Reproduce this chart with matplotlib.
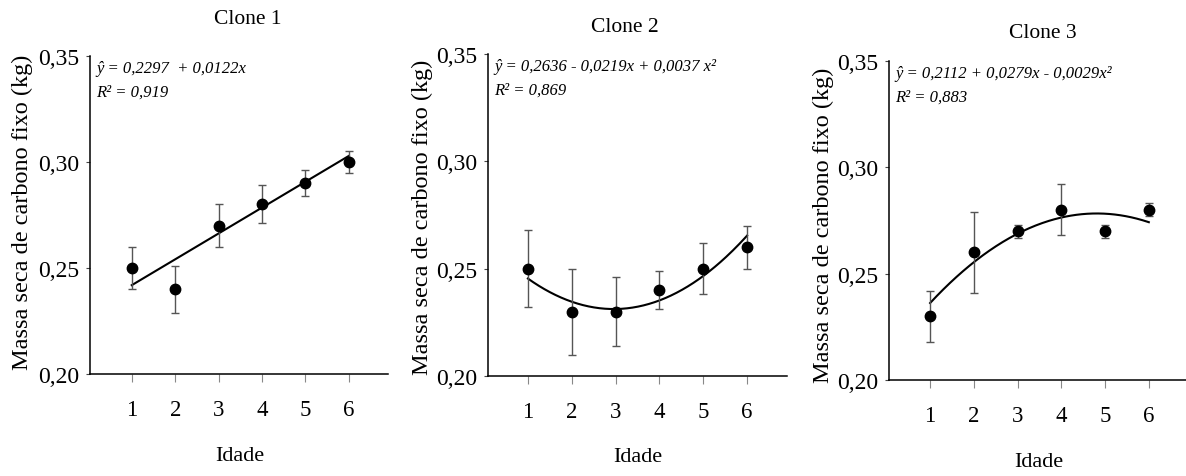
import numpy as np
from matplotlib import pyplot as plt

# dados
idade = [1, 2, 3, 4, 5, 6]
clone1_media = [0.25, 0.24, 0.27, 0.28, 0.29, 0.30]
clone1_erro = [0.010, 0.011, 0.010, 0.009, 0.006, 0.005]
clone2_media = [0.25, 0.23, 0.23, 0.24, 0.25, 0.26]
clone2_erro = [0.018, 0.020, 0.016, 0.009, 0.012, 0.010]
clone3_media = [0.23, 0.26, 0.27, 0.28, 0.27, 0.28]
clone3_erro = [0.012, 0.019, 0.003, 0.012, 0.003, 0.003]

# coeficientes das equações ajustadas (b0, b1, b2)
clone1_coef = [0.2297, 0.0122, 0.0]
clone2_coef = [0.2636, -0.0219, 0.0037]
clone3_coef = [0.2112, 0.0279, -0.0029]

titulos = ["Clone 1", "Clone 2", "Clone 3"]
equacoes = ["ŷ = 0,2297  + 0,0122x",
            "ŷ = 0,2636 - 0,0219x + 0,0037 x²",
            "ŷ = 0,2112 + 0,0279x - 0,0029x²"]
r2_textos = ["R² = 0,919", "R² = 0,869", "R² = 0,883"]
y_ticks = [0.20, 0.25, 0.30, 0.35]
y_tick_labels = ["0,20", "0,25", "0,30", "0,35"]

W, H = 1186, 477
plt.rcParams['font.family'] = ['Liberation Serif', 'DejaVu Serif']
fig = plt.figure(figsize=(W / 100, H / 100), dpi=100)


def px(x, y):
    return x / W, 1 - y / H


# (esquerda, direita, base, topo) em pixels, limites de x
paineis = [
    dict(box=(90.5, 388, 375, 57), xlim=(0.05, 6.9), titulo=(248, 20), ylab=(22, 212), xlab=(240, 457)),
    dict(box=(488, 787, 377, 55), xlim=(0.09, 6.91), titulo=(625, 28), ylab=(422, 217), xlab=(638, 458)),
    dict(box=(889, 1186, 381, 62), xlim=(0.06, 6.85), titulo=(1043, 33), ylab=(823, 225), xlab=(1039, 463)),
]
medias = [clone1_media, clone2_media, clone3_media]
erros = [clone1_erro, clone2_erro, clone3_erro]
coefs = [clone1_coef, clone2_coef, clone3_coef]

for i, p in enumerate(paineis):
    l, r, b, t = p['box']
    ax = fig.add_axes([l / W, 1 - b / H, (r - l) / W, (b - t) / H])
    ax.errorbar(idade, medias[i], yerr=erros[i], fmt='o', color='black', ms=7.5,
                ecolor='#555555', elinewidth=1.0, capsize=2.8, capthick=1.0, zorder=3)
    xs = np.linspace(1, 6, 200)
    c = coefs[i]
    ax.plot(xs, c[0] + c[1] * xs + c[2] * xs ** 2, color='black', lw=1.5, zorder=2)

    ax.set_xlim(*p['xlim'])
    ax.set_ylim(0.20, 0.35)
    ax.set_xticks(idade)
    ax.set_xticklabels([str(v) for v in idade], fontsize=16.5)
    ax.set_yticks(y_ticks)
    ax.set_yticklabels(y_tick_labels, fontsize=17)
    ax.tick_params(axis='x', length=6, width=0.8, color='#888888', pad=12)
    ax.tick_params(axis='y', length=3, width=0.8, color='#444444', pad=5)
    for s in ['top', 'right']:
        ax.spines[s].set_visible(False)
    for s in ['left', 'bottom']:
        ax.spines[s].set_linewidth(1.1)
    ax.patch.set_alpha(0)

    ax.annotate(equacoes[i], xy=(0, 1), xycoords='axes fraction', xytext=(6, -12),
                textcoords='offset pixels', fontsize=12, style='italic', va='center', ha='left')
    ax.annotate(r2_textos[i], xy=(0, 1), xycoords='axes fraction', xytext=(6, -36),
                textcoords='offset pixels', fontsize=12, style='italic', va='center', ha='left')

    fig.text(*px(*p['titulo']), titulos[i], fontsize=15.5, ha='center', va='center')
    fig.text(*px(*p['ylab']), "Massa seca de carbono fixo (kg)", fontsize=17.5,
             rotation=90, ha='center', va='center')
    fig.text(*px(*p['xlab']), "Idade", fontsize=16, ha='center', va='center')

fig.savefig('out.png', dpi=100)
